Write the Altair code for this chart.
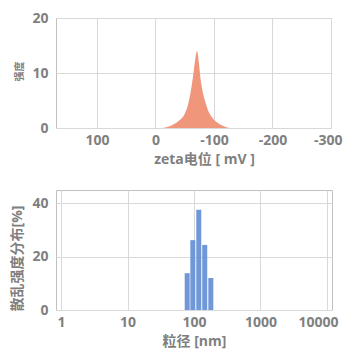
import altair as alt
import pandas as pd

# Zeta potential distribution
zeta_mv = [-10, -20, -30, -40, -50, -55, -60, -65, -68, -71, -74, -77, -80, -85, -90, -95, -100, -110, -120, -128]
zeta_intensity = [0, 0.2, 0.6, 1.3, 2.6, 4.0, 6.5, 10.0, 12.5, 14.0, 12.0, 9.0, 7.0, 4.8, 3.2, 2.2, 1.5, 0.7, 0.2, 0]

# Particle size distribution
size_nm = [79, 96, 118, 145, 179]
size_pct = [13.8, 26.2, 37.6, 24.4, 12.0]

zeta_ticks = [100, 0, -100, -200, -300]
zeta_y_ticks = [0, 10, 20]
size_ticks = [1, 10, 100, 1000, 10000]
size_y_ticks = [0, 20, 40]

FONT = "Open Sans, Noto Sans CJK SC, sans-serif"
GRAY = "#7f7f7f"

zeta_df = pd.DataFrame({"mv": zeta_mv, "intensity": zeta_intensity})
size_df = pd.DataFrame({"nm": size_nm, "pct": size_pct})

top = alt.Chart(zeta_df).mark_area(color="#F0977B", interpolate="monotone").encode(
    x=alt.X("mv:Q",
            scale=alt.Scale(domain=[-300, 170], reverse=True, nice=False, zero=False),
            axis=alt.Axis(values=zeta_ticks, labelExpr="'' + datum.value",
                          labelAlign={"condition": {"test": "datum.value == -300", "value": "right"}, "value": "center"},
                          labelOffset={"condition": {"test": "datum.value == -300", "value": 11}, "value": 0},
                          title="zeta电位 [ mV ]", titleX=148)),
    y=alt.Y("intensity:Q",
            scale=alt.Scale(domain=[0, 20], nice=False),
            axis=alt.Axis(values=zeta_y_ticks, title="强度", titleFontSize=10, titleY=53)),
).properties(width=275, height=110)

bottom = alt.Chart(size_df).mark_bar(color="#7097D7", size=5).encode(
    x=alt.X("nm:Q",
            scale=alt.Scale(type="log", domain=[1, 10000], nice=False),
            axis=alt.Axis(values=size_ticks, labelExpr="'' + datum.value",
                          labelAlign={"condition": {"test": "datum.value == 10000", "value": "right"}, "value": "center"},
                          labelOffset={"condition": {"test": "datum.value == 10000", "value": 11}, "value": 0},
                          title="粒径 [nm]")),
    y=alt.Y("pct:Q",
            scale=alt.Scale(domain=[0, 45], nice=False),
            axis=alt.Axis(values=size_y_ticks, title="散乱强度分布[%]", titleY=68)),
).properties(width=276, height=120)

chart = alt.vconcat(top, bottom, spacing=22).configure(
    padding={"left": 2, "top": 2, "right": 0, "bottom": 0}
).configure_view(
    stroke="#c0c0c0", strokeWidth=1
).configure_axis(
    grid=True, gridColor="#d9d9d9", domain=False, ticks=False,
    labelFont=FONT, labelFontSize=14, labelFontWeight="bold", labelColor=GRAY,
    titleFont=FONT, titleFontSize=14, titleFontWeight="bold", titleColor=GRAY,
    labelPadding=5, titlePadding=5,
).configure_axisLeft(titlePadding=7, labelPadding=8)

chart.save("out.html", embed_options={"renderer": "svg", "actions": False})
